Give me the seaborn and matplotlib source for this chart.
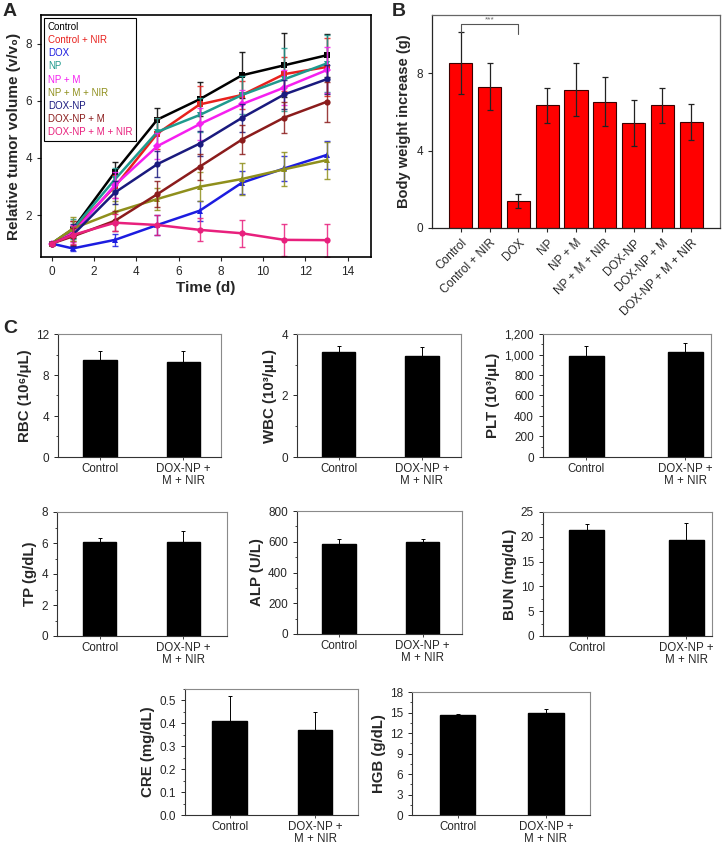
import matplotlib
matplotlib.use("Agg")
import numpy as np
import pandas as pd
import matplotlib.pyplot as plt
import seaborn as sns
from matplotlib.lines import Line2D
from matplotlib.ticker import AutoMinorLocator, FuncFormatter

# ---- data: panel A (relative tumor volume) ----
days = [0, 1, 3, 5, 7, 9, 11, 13]
groups_a = ["Control", "Control + NIR", "DOX", "NP", "NP + M", "NP + M + NIR",
            "DOX-NP", "DOX-NP + M", "DOX-NP + M + NIR"]
vol_control = [1.0, 1.5, 3.51, 5.34, 6.05, 6.89, 7.24, 7.59]
vol_control_nir = [1.0, 1.45, 3.0, 4.85, 5.87, 6.2, 6.93, 7.18]
vol_dox = [1.0, 0.83, 1.13, 1.65, 2.15, 3.13, 3.63, 4.1]
vol_np = [1.0, 1.5, 3.25, 4.91, 5.5, 6.2, 6.75, 7.3]
vol_np_m = [1.0, 1.35, 3.05, 4.41, 5.18, 5.88, 6.46, 7.07]
vol_np_m_nir = [1.0, 1.52, 2.1, 2.56, 2.99, 3.26, 3.6, 3.92]
vol_dox_np = [1.0, 1.3, 2.79, 3.78, 4.5, 5.4, 6.22, 6.75]
vol_dox_np_m = [1.0, 1.25, 1.8, 2.73, 3.69, 4.64, 5.41, 5.96]
vol_dox_np_m_nir = [1.0, 1.3, 1.73, 1.65, 1.48, 1.36, 1.13, 1.12]

err_control = [0.05, 0.3, 0.33, 0.42, 0.6, 0.8, 1.12, 0.75]
err_control_nir = [0.05, 0.35, 0.4, 0.55, 0.65, 0.5, 0.6, 1.0]
err_dox = [0.05, 0.1, 0.2, 0.35, 0.35, 0.4, 0.45, 0.5]
err_np = [0.05, 0.35, 0.4, 0.5, 0.6, 0.65, 1.1, 1.0]
err_np_m = [0.05, 0.3, 0.45, 0.45, 0.55, 0.5, 0.6, 0.8]
err_np_m_nir = [0.05, 0.42, 0.4, 0.4, 0.5, 0.55, 0.6, 0.65]
err_dox_np = [0.05, 0.4, 0.4, 0.45, 0.45, 0.5, 0.5, 0.5]
err_dox_np_m = [0.05, 0.3, 0.35, 0.45, 0.45, 0.5, 0.55, 0.7]
err_dox_np_m_nir = [0.05, 0.3, 0.3, 0.35, 0.4, 0.48, 0.55, 0.58]

# ---- data: panel B (body weight increase) ----
weight_gain = [8.5, 7.3, 1.4, 6.33, 7.15, 6.53, 5.43, 6.34, 5.45]
weight_err = [1.6, 1.2, 0.35, 0.9, 1.35, 1.25, 1.2, 0.9, 0.93]

# ---- data: panel C (blood tests) ----
groups_c = ["Control", "DOX-NP +\nM + NIR"]
rbc = [9.46, 9.29];  rbc_err = [0.88, 1.05]
wbc = [3.41, 3.30];  wbc_err = [0.2, 0.29]
plt_count = [985, 1020];  plt_err = [100, 95]
tp = [6.09, 6.07];  tp_err = [0.24, 0.69]
alp = [584, 600];  alp_err = [33, 21]
bun = [21.38, 19.44];  bun_err = [1.14, 3.42]
cre = [0.41, 0.37];  cre_err = [0.11, 0.08]
hgb = [14.62, 14.9];  hgb_err = [0.2, 0.6]

sns.set_style("ticks")
plt.rcParams['font.family'] = ['Liberation Sans', 'DejaVu Sans']
plt.rcParams['axes.linewidth'] = 0.9

W, H = 722, 846
fig = plt.figure(figsize=(W / 100, H / 100), dpi=100)


def px_axes(x0, y0, x1, y1):
    # pixel box (left, top, right, bottom) -> figure axes
    return fig.add_axes([x0 / W, 1 - y1 / H, (x1 - x0) / W, (y1 - y0) / H])


# ---------------- panel A ----------------
ax = px_axes(41, 15, 371, 257)
series = [vol_control, vol_control_nir, vol_dox, vol_np, vol_np_m, vol_np_m_nir,
          vol_dox_np, vol_dox_np_m, vol_dox_np_m_nir]
errors = [err_control, err_control_nir, err_dox, err_np, err_np_m, err_np_m_nir,
          err_dox_np, err_dox_np_m, err_dox_np_m_nir]
colors = ["black", "#e8211d", "#1c1ce0", "#1f9a8e", "#f51ff0", "#8f8f1c",
          "#1a1a7e", "#8b1c1c", "#e8207d"]
markers = ["s", "s", "^", "v", "D", "^", "o", "o", "o"]

for name, vals, errs, c, m in zip(groups_a, series, errors, colors, markers):
    df = pd.DataFrame({"day": days, "vol": vals})
    sns.lineplot(data=df, x="day", y="vol", ax=ax, color=c, marker=m,
                 markersize=4.5, markeredgewidth=0, linewidth=1.8)
    ax.errorbar(days, vals, yerr=errs, fmt="none", ecolor=c, elinewidth=1.0,
                capsize=2.5, capthick=1.0, alpha=0.85)

ax.set_xlim(-0.5, 15.1)
ax.set_ylim(0.53, 9.0)
ax.set_xticks(range(0, 15, 2))
ax.set_yticks([2, 4, 6, 8])
ax.tick_params(labelsize=8.5, length=3, width=0.8)
ax.set_xlabel("Time (d)", fontsize=11, fontweight="bold", labelpad=2)
ax.set_ylabel("Relative tumor volume (v/v\u2080)", fontsize=11, fontweight="bold", labelpad=3)
for s in ax.spines.values():
    s.set_linewidth(1.2)
    s.set_color("black")

handles = [Line2D([], [], linestyle="none") for _ in groups_a]
leg = ax.legend(handles, groups_a, loc="upper left", fontsize=7, handlelength=0,
                handletextpad=0, labelspacing=0.33, borderpad=0.4,
                borderaxespad=0.3, fancybox=False, framealpha=1, edgecolor="black")
leg.get_frame().set_linewidth(0.8)
for t, c in zip(leg.get_texts(), colors):
    t.set_color(c)

fig.text(3 / W, 1 - 16 / H, "A", fontsize=14, fontweight="bold")

# ---------------- panel B ----------------
axb = px_axes(432, 15, 720, 228)
dfb = pd.DataFrame({"group": groups_a, "gain": weight_gain})
sns.barplot(data=dfb, x="group", y="gain", ax=axb, color="#ff0000", width=0.8,
            edgecolor="#3a0000", linewidth=0.8, saturation=1)
axb.errorbar(range(len(groups_a)), weight_gain, yerr=weight_err, fmt="none",
             ecolor="#222222", elinewidth=0.9, capsize=2.5, capthick=0.9)
axb.set_xlim(-1, 9)
axb.set_ylim(0, 11)
axb.set_yticks([0, 4, 8])
axb.set_xlabel("")
axb.set_ylabel("Body weight increase (g)", fontsize=10.5, fontweight="bold", labelpad=4)
axb.set_xticks(range(len(groups_a)))
axb.set_xticklabels(groups_a, rotation=45, ha="right", rotation_mode="anchor", fontsize=8.5)
axb.tick_params(labelsize=8.5, length=3, width=0.8)
for k in ["top", "right"]:
    axb.spines[k].set_color("#666666")
# significance bracket Control vs DOX
axb.plot([0, 0, 2, 2], [10.1, 10.55, 10.55, 10.0], color="#555555", linewidth=0.8)
axb.text(1, 10.57, "***", ha="center", va="bottom", fontsize=6, color="#666666")

fig.text(392 / W, 1 - 16 / H, "B", fontsize=14, fontweight="bold")

# ---------------- panel C ----------------
fig.text(3 / W, 1 - 333 / H, "C", fontsize=14, fontweight="bold")


def blood_panel(box, vals, errs, ylabel, ylim, yticks, xlim, width, fmt=None):
    a = px_axes(*box)
    dfc = pd.DataFrame({"group": groups_c, "value": vals})
    sns.barplot(data=dfc, x="group", y="value", ax=a, color="black", width=width,
                edgecolor="black", saturation=1)
    a.errorbar([0, 1], vals, yerr=[[0, 0], errs], fmt="none", ecolor="black",
               elinewidth=0.7, capsize=1.5, capthick=0.7)
    a.set_xlim(*xlim)
    a.set_ylim(*ylim)
    a.set_yticks(yticks)
    a.yaxis.set_minor_locator(AutoMinorLocator(2))
    if fmt is not None:
        a.yaxis.set_major_formatter(FuncFormatter(fmt))
    a.set_xlabel("")
    a.set_ylabel(ylabel, fontsize=10.8, fontweight="bold", labelpad=3)
    a.tick_params(axis="y", labelsize=8.5, length=3, width=0.7)
    a.tick_params(axis="y", which="minor", length=1.5, width=0.6)
    a.tick_params(axis="x", labelsize=8.3, length=2, width=0.6, pad=2)
    for t in a.get_xticklabels():
        t.set_linespacing(1.05)
    for k in ["top", "right"]:
        a.spines[k].set_color("#8a8a8a")
        a.spines[k].set_linewidth(0.8)
    for k in ["left", "bottom"]:
        a.spines[k].set_color("#333333")
        a.spines[k].set_linewidth(0.8)
    return a


blood_panel((58, 334, 221, 457), rbc, rbc_err, "RBC (10\u2076/\u03bcL)",
            (0, 12), [0, 4, 8, 12], (-0.5, 1.45), 0.4)
blood_panel((297, 334, 461, 457), wbc, wbc_err, "WBC (10\u00b3/\u03bcL)",
            (0, 4), [0, 2, 4], (-0.5, 1.47), 0.4)
blood_panel((543, 334, 711, 457), plt_count, plt_err, "PLT (10\u00b3/\u03bcL)",
            (0, 1200), list(range(0, 1201, 200)), (-0.44, 1.26), 0.35,
            fmt=lambda v, p: f"{int(v):,}")
blood_panel((57, 512, 227, 636), tp, tp_err, "TP (g/dL)",
            (0, 8), [0, 2, 4, 6, 8], (-0.51, 1.52), 0.4)
blood_panel((297, 511, 462, 634), alp, alp_err, "ALP (U/L)",
            (0, 800), [0, 200, 400, 600, 800], (-0.5, 1.47), 0.4)
blood_panel((543, 512, 712, 636), bun, bun_err, "BUN (mg/dL)",
            (0, 25), [0, 5, 10, 15, 20, 25], (-0.44, 1.26), 0.35)
blood_panel((185, 689, 358, 815), cre, cre_err, "CRE (mg/dL)",
            (0, 0.55), [0, 0.1, 0.2, 0.3, 0.4, 0.5], (-0.52, 1.5), 0.4,
            fmt=lambda v, p: f"{v:.1f}")
blood_panel((412, 692, 590, 815), hgb, hgb_err, "HGB (g/dL)",
            (0, 18), [0, 3, 6, 9, 12, 15, 18], (-0.52, 1.5), 0.4)

fig.savefig("out.png", dpi=100)
